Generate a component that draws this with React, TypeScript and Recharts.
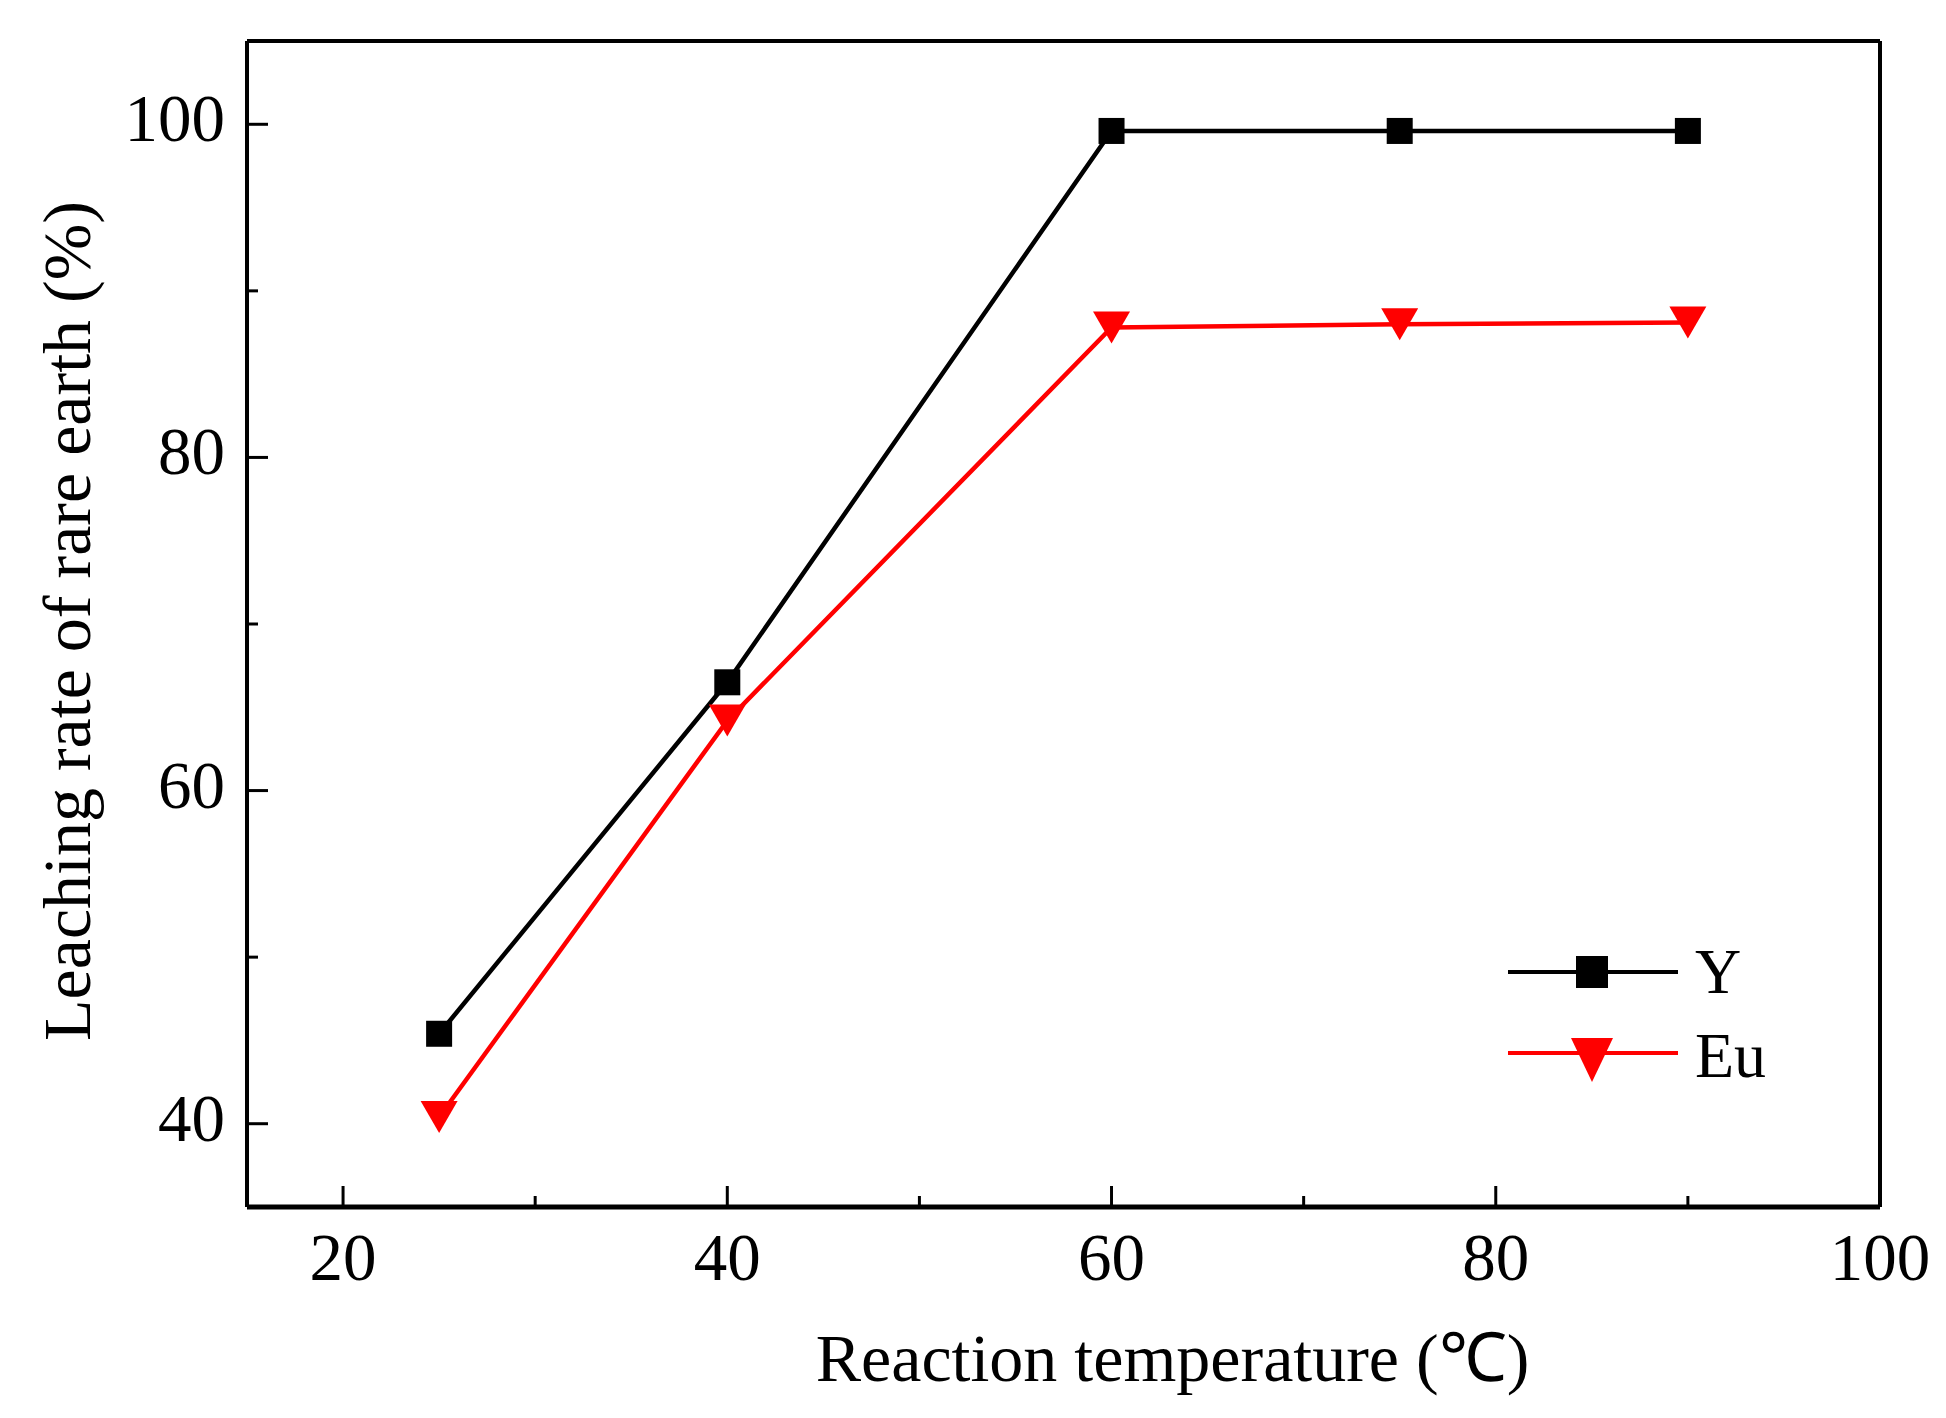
import { LineChart, Line, XAxis, YAxis, Legend, Label } from 'recharts'

const temperatures = [25, 40, 60, 75, 90]
const yRate = [45.4, 66.5, 99.6, 99.6, 99.6]
const euRate = [40.4, 64.2, 87.8, 88.0, 88.1]

const xTicks = [20, 30, 40, 50, 60, 70, 80, 90, 100]
const yTicks = [40, 50, 60, 70, 80, 90, 100]

const seriesNames = ['Y', 'Eu']

const data = temperatures.map((t, i) => ({ t, y: yRate[i], eu: euRate[i] }))

const FONT = "'Times New Roman', 'Liberation Serif', serif"

const XTick = ({ x, y, payload }: any) => {
  const major = payload.value % 20 === 0
  return (
    <g>
      <line x1={x} x2={x} y1={y} y2={y - (major ? 21 : 11)} stroke="#000" strokeWidth={3} />
      {major && (
        <text x={x} y={y + 73} textAnchor="middle" fontSize={67} fontFamily={FONT} fill="#000">
          {payload.value}
        </text>
      )}
    </g>
  )
}

const YTick = ({ x, y, payload }: any) => {
  const major = payload.value % 20 === 0
  return (
    <g>
      <line x1={x} x2={x + (major ? 21 : 11)} y1={y} y2={y} stroke="#000" strokeWidth={3} />
      {major && (
        <text x={x - 22} y={y + 17} textAnchor="end" fontSize={67} fontFamily={FONT} fill="#000">
          {payload.value}
        </text>
      )}
    </g>
  )
}

const SquareDot = (p: any) => (
  <rect key={`sq-${p.index}`} x={p.cx - 13} y={p.cy - 13} width={26} height={26} fill="#000" />
)

const TriDot = (p: any) => (
  <path
    key={`tri-${p.index}`}
    d={`M${p.cx - 18.5},${p.cy - 16}L${p.cx + 18.5},${p.cy - 16}L${p.cx},${p.cy + 16}Z`}
    fill="#ff0000"
  />
)

const LegendBox = () => (
  <svg width={300} height={170}>
    <line x1={18} x2={188} y1={42} y2={42} stroke="#000" strokeWidth={4} />
    <rect x={86} y={26} width={32} height={32} fill="#000" />
    <text x={205} y={63} fontSize={64} fontFamily={FONT} fill="#000">{seriesNames[0]}</text>
    <line x1={18} x2={188} y1={123} y2={123} stroke="#ff0000" strokeWidth={4} />
    <path d="M81,108L123,108L102,152Z" fill="#ff0000" />
    <text x={205} y={147} fontSize={64} fontFamily={FONT} fill="#000">{seriesNames[1]}</text>
  </svg>
)

export default function App() {
  return (
    <div style={{ position: 'absolute', left: 0, top: 0, background: '#fff' }}>
      <LineChart width={1946} height={1418} data={data} margin={{ top: 0, right: 0, bottom: 0, left: 0 }}>
        <XAxis
          dataKey="t"
          type="number"
          domain={[15, 100]}
          ticks={xTicks}
          interval={0}
          height={211}
          tickSize={0}
          tickMargin={0}
          tickLine={false}
          tick={XTick}
          axisLine={{ stroke: '#000', strokeWidth: 5 }}
          allowDataOverflow
        >
          <Label
            content={({ viewBox }: any) => (
              <text
                x={viewBox.x + viewBox.width / 2 + 109}
                y={viewBox.y + 174}
                textAnchor="middle"
                fontSize={68}
                fontFamily={FONT}
                fill="#000"
              >
                Reaction temperature (℃)
              </text>
            )}
          />
        </XAxis>
        <XAxis
          xAxisId="top"
          orientation="top"
          type="number"
          domain={[15, 100]}
          height={41}
          tick={false}
          tickLine={false}
          axisLine={{ stroke: '#000', strokeWidth: 4 }}
        />
        <YAxis
          type="number"
          domain={[35, 105]}
          ticks={yTicks}
          interval={0}
          width={247}
          tickSize={0}
          tickMargin={0}
          tickLine={false}
          tick={YTick}
          axisLine={{ stroke: '#000', strokeWidth: 4 }}
          allowDataOverflow
        >
          <Label
            content={({ viewBox }: any) => {
              const cx = 90
              const cy = viewBox.y + viewBox.height / 2 - 3
              return (
                <text
                  x={cx}
                  y={cy}
                  transform={`rotate(-90, ${cx}, ${cy})`}
                  textAnchor="middle"
                  fontSize={68}
                  fontFamily={FONT}
                  fill="#000"
                >
                  Leaching rate of rare earth (%)
                </text>
              )
            }}
          />
        </YAxis>
        <YAxis
          yAxisId="right"
          orientation="right"
          type="number"
          domain={[35, 105]}
          width={66}
          tick={false}
          tickLine={false}
          axisLine={{ stroke: '#000', strokeWidth: 4 }}
        />
        <Legend
          layout="horizontal"
          verticalAlign="middle"
          align="center"
          wrapperStyle={{ left: 1490, top: 930, width: 300, height: 170 }}
          content={LegendBox}
        />
        <Line
          dataKey="y"
          name={seriesNames[0]}
          stroke="#000"
          strokeWidth={4.5}
          dot={SquareDot}
          activeDot={false}
          isAnimationActive={false}
        />
        <Line
          dataKey="eu"
          name={seriesNames[1]}
          stroke="#ff0000"
          strokeWidth={4.5}
          dot={TriDot}
          activeDot={false}
          isAnimationActive={false}
        />
      </LineChart>
    </div>
  )
}
